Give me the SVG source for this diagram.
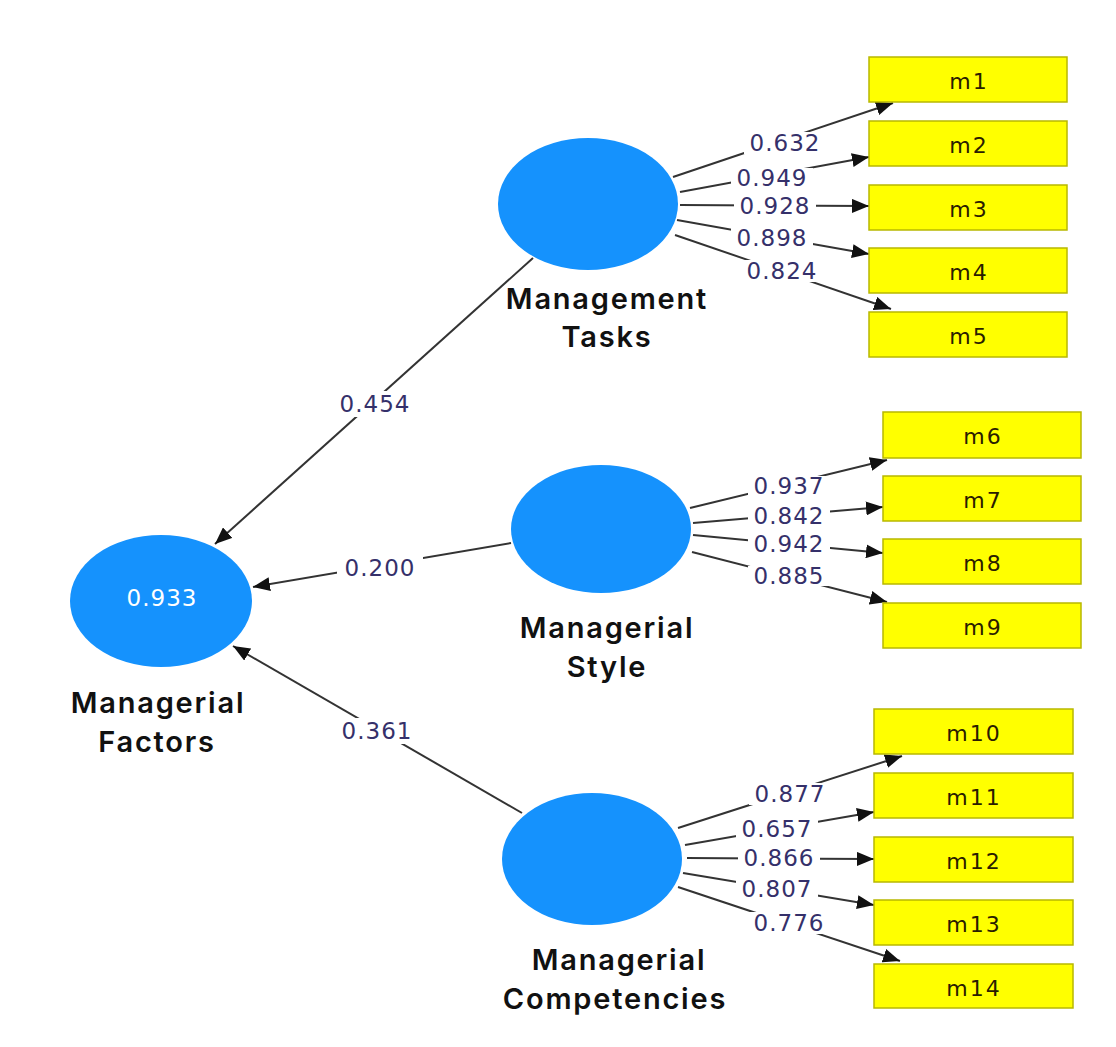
<svg xmlns="http://www.w3.org/2000/svg" width="1116" height="1047" viewBox="0 0 1116 1047">
<style>
.lv{fill:#1592fd;}
.ind{fill:#ffff00;stroke:#b8b800;stroke-width:1.5;}
.it{font-family:"DejaVu Sans",Verdana,sans-serif;font-size:22px;letter-spacing:2px;fill:#2a1c00;text-anchor:middle;}
.nl{font-family:Inter,"Liberation Sans",sans-serif;font-weight:600;font-size:29px;letter-spacing:1.8px;fill:#111;text-anchor:middle;}
.w{font-family:"DejaVu Sans",Verdana,sans-serif;font-size:23px;letter-spacing:1px;text-anchor:middle;fill:#35306a;}
.bg{fill:#fff;}
.r2{font-family:"DejaVu Sans",Verdana,sans-serif;font-size:23px;letter-spacing:1px;text-anchor:middle;fill:#ffffff;}
.c{stroke:#333;stroke-width:2;fill:none;marker-end:url(#ah);}
</style>
<defs>
<marker id="ah" markerUnits="userSpaceOnUse" markerWidth="18" markerHeight="14" refX="17" refY="7" orient="auto">
<path d="M0,0 L17,7 L0,14 z" fill="#111"/>
</marker>
</defs>
<rect width="1116" height="1047" fill="#fff"/>
<g id="connectors">
<line class="c" x1="533" y1="258" x2="215" y2="544"/>
<line class="c" x1="511" y1="543" x2="253" y2="587"/>
<line class="c" x1="522" y1="813" x2="233" y2="646"/>
<line class="c" x1="673" y1="177" x2="893" y2="103"/>
<line class="c" x1="680" y1="192" x2="869" y2="157"/>
<line class="c" x1="680" y1="205" x2="869" y2="206"/>
<line class="c" x1="677" y1="220" x2="869" y2="254"/>
<line class="c" x1="675" y1="235" x2="891" y2="309"/>
<line class="c" x1="690" y1="508" x2="887" y2="460"/>
<line class="c" x1="693" y1="523" x2="883" y2="507"/>
<line class="c" x1="693" y1="535" x2="883" y2="553"/>
<line class="c" x1="692" y1="552" x2="887" y2="602"/>
<line class="c" x1="678" y1="828" x2="902" y2="756"/>
<line class="c" x1="685" y1="845" x2="874" y2="812"/>
<line class="c" x1="687" y1="858" x2="874" y2="859"/>
<line class="c" x1="683" y1="873" x2="874" y2="905"/>
<line class="c" x1="678" y1="887" x2="900" y2="961"/>
<rect class="bg" x="332" y="391" width="86" height="26"/>
<rect class="bg" x="337" y="555" width="86" height="26"/>
<rect class="bg" x="334" y="718" width="86" height="26"/>
<rect class="bg" x="744" y="132" width="82" height="22"/>
<rect class="bg" x="731" y="168" width="82" height="20"/>
<rect class="bg" x="734" y="196" width="82" height="20"/>
<rect class="bg" x="731" y="228" width="82" height="20"/>
<rect class="bg" x="741" y="260" width="82" height="22"/>
<rect class="bg" x="748" y="476" width="82" height="20"/>
<rect class="bg" x="748" y="506" width="82" height="20"/>
<rect class="bg" x="748" y="534" width="82" height="20"/>
<rect class="bg" x="748" y="566" width="82" height="20"/>
<rect class="bg" x="749" y="783" width="82" height="22"/>
<rect class="bg" x="736" y="819" width="82" height="20"/>
<rect class="bg" x="738" y="848" width="82" height="20"/>
<rect class="bg" x="736" y="879" width="82" height="20"/>
<rect class="bg" x="748" y="912" width="82" height="22"/>
<text class="w" x="375" y="412">0.454</text>
<text class="w" x="380" y="576">0.200</text>
<text class="w" x="377" y="739">0.361</text>
<text class="w" x="785" y="151">0.632</text>
<text class="w" x="772" y="186">0.949</text>
<text class="w" x="775" y="214">0.928</text>
<text class="w" x="772" y="246">0.898</text>
<text class="w" x="782" y="279">0.824</text>
<text class="w" x="789" y="494">0.937</text>
<text class="w" x="789" y="524">0.842</text>
<text class="w" x="789" y="552">0.942</text>
<text class="w" x="789" y="584">0.885</text>
<text class="w" x="790" y="802">0.877</text>
<text class="w" x="777" y="837">0.657</text>
<text class="w" x="779" y="866">0.866</text>
<text class="w" x="777" y="897">0.807</text>
<text class="w" x="789" y="931">0.776</text>
</g>
<g id="managerial-factors">
<ellipse class="lv" cx="161" cy="601" rx="91" ry="66"/>
<text class="r2" x="162" y="606">0.933</text>
<text class="nl" x="158" y="713">Managerial</text>
<text class="nl" x="157" y="752">Factors</text>
</g>
<g id="management-tasks">
<ellipse class="lv" cx="588" cy="204" rx="90" ry="66"/>
<text class="nl" x="607" y="309">Management</text>
<text class="nl" x="607" y="347">Tasks</text>
</g>
<g id="managerial-style">
<ellipse class="lv" cx="601" cy="529" rx="90" ry="64"/>
<text class="nl" x="607" y="638">Managerial</text>
<text class="nl" x="607" y="677">Style</text>
</g>
<g id="managerial-competencies">
<ellipse class="lv" cx="592" cy="859" rx="90" ry="66"/>
<text class="nl" x="619" y="970">Managerial</text>
<text class="nl" x="615" y="1009">Competencies</text>
</g>
<g id="m1"><rect class="ind" x="869" y="57" width="198" height="45"/><text class="it" x="969" y="89">m1</text></g>
<g id="m2"><rect class="ind" x="869" y="121" width="198" height="45"/><text class="it" x="969" y="153">m2</text></g>
<g id="m3"><rect class="ind" x="869" y="185" width="198" height="45"/><text class="it" x="969" y="217">m3</text></g>
<g id="m4"><rect class="ind" x="869" y="248" width="198" height="45"/><text class="it" x="969" y="280">m4</text></g>
<g id="m5"><rect class="ind" x="869" y="312" width="198" height="45"/><text class="it" x="969" y="344">m5</text></g>
<g id="m6"><rect class="ind" x="883" y="412" width="198" height="46"/><text class="it" x="983" y="444">m6</text></g>
<g id="m7"><rect class="ind" x="883" y="476" width="198" height="45"/><text class="it" x="983" y="508">m7</text></g>
<g id="m8"><rect class="ind" x="883" y="539" width="198" height="45"/><text class="it" x="983" y="571">m8</text></g>
<g id="m9"><rect class="ind" x="883" y="603" width="198" height="45"/><text class="it" x="983" y="635">m9</text></g>
<g id="m10"><rect class="ind" x="874" y="709" width="199" height="45"/><text class="it" x="974" y="741">m10</text></g>
<g id="m11"><rect class="ind" x="874" y="773" width="199" height="45"/><text class="it" x="974" y="805">m11</text></g>
<g id="m12"><rect class="ind" x="874" y="837" width="199" height="45"/><text class="it" x="974" y="869">m12</text></g>
<g id="m13"><rect class="ind" x="874" y="900" width="199" height="45"/><text class="it" x="974" y="932">m13</text></g>
<g id="m14"><rect class="ind" x="874" y="964" width="199" height="44"/><text class="it" x="974" y="996">m14</text></g>
</svg>
